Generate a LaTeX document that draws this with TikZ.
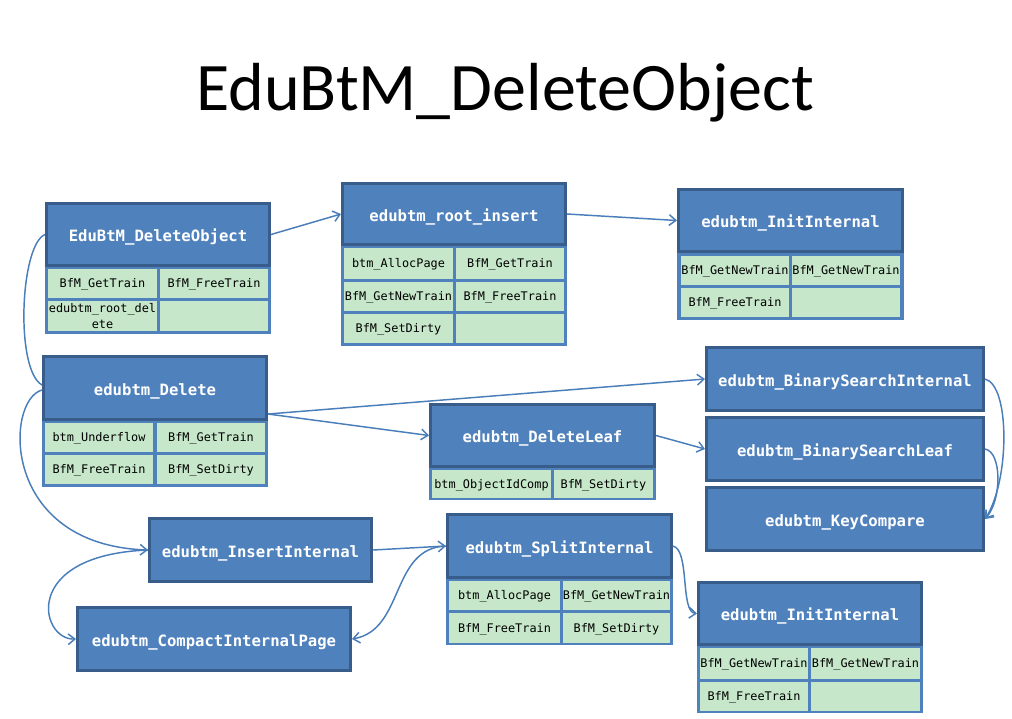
\documentclass[tikz,border=0pt]{standalone}
\usepackage{fontspec}
\setmainfont{Carlito}
\newfontfamily\monofont{DejaVu Sans Mono}
\usetikzlibrary{arrows.meta,calc}
\definecolor{hdrfill}{HTML}{4F81BD}
\definecolor{hdrline}{HTML}{385D8A}
\definecolor{cellfill}{HTML}{C6E7CA}
\definecolor{cellline}{HTML}{4F81BD}
\definecolor{conn}{HTML}{4A7EBB}
\tikzset{
  hdrst/.style={fill=hdrfill, draw=hdrline, line width=2.25pt, text=white,
    font=\monofont\bfseries\fontsize{11.7}{14}\selectfont, inner sep=0pt,
    text height=11.2pt, text depth=0pt},
  cellst/.style={fill=cellfill, draw=none, inner sep=0pt, align=center,
    font=\monofont\fontsize{8.9}{11.5}\selectfont},
  cellone/.style={cellst, text height=6.4pt, text depth=0pt},
  conn/.style={draw=conn, line width=1.1pt, -{Straight Barb[length=5pt,width=8pt]}},
  plainconn/.style={draw=conn, line width=1.1pt},
}
% name x1 y1 x2 y2 text (outer pixel coordinates)
\newcommand\hdrbox[6]{%
  \node[hdrst, minimum width={(#4-#2-3)*0.75pt}, minimum height={(#5-#3-3)*0.75pt}]
    (#1) at ({(#2+#4)/2},{(#3+#5)/2}) {#6};}
\newcommand\cellbox[6]{%
  \node[cellone, minimum width={(#4-#2)*0.75pt}, minimum height={(#5-#3)*0.75pt}]
    (#1) at ({(#2+#4)/2},{(#3+#5)/2}) {#6};}
\begin{document}
\begin{tikzpicture}[x=0.75pt,y=-0.75pt]
\fill[white] (0,0) rectangle (1012,718);
\useasboundingbox (0,0) rectangle (1012,718);

% title
\node[anchor=base, font=\fontsize{51}{61}\selectfont] (title) at (505,110) {EduBtM\_DeleteObject};

% Box A: EduBtM_DeleteObject
\fill[cellline] (45,265) rectangle (271,334);
\cellbox{a11}{48}{269}{157}{298}{BfM\_GetTrain}
\cellbox{a12}{160}{269}{268}{298}{BfM\_FreeTrain}
\node[cellst, minimum width={109*0.75pt}, minimum height={30*0.75pt}] (a21) at (102.5,316) {edubtm\_root\_del\\ete};
\cellbox{a22}{160}{301}{268}{331}{}
\hdrbox{A}{45}{202}{271}{267}{EduBtM\_DeleteObject}

% Box B: edubtm_root_insert
\fill[cellline] (341,244) rectangle (567,346);
\cellbox{b11}{344}{248}{453}{279}{btm\_AllocPage}
\cellbox{b12}{456}{248}{564}{279}{BfM\_GetTrain}
\cellbox{b21}{344}{282}{453}{311}{BfM\_GetNewTrain}
\cellbox{b22}{456}{282}{564}{311}{BfM\_FreeTrain}
\cellbox{b31}{344}{314}{453}{343}{BfM\_SetDirty}
\cellbox{b32}{456}{314}{564}{343}{}
\hdrbox{B}{341}{182}{567}{246}{edubtm\_root\_insert}

% Box C: edubtm_InitInternal (top)
\fill[cellline] (677,251) rectangle (904,320);
\cellbox{c11}{681}{256}{789}{285}{BfM\_GetNewTrain}
\cellbox{c12}{792}{256}{900}{285}{BfM\_GetNewTrain}
\cellbox{c21}{681}{288}{789}{317}{BfM\_FreeTrain}
\cellbox{c22}{792}{288}{900}{317}{}
\hdrbox{C}{677}{188}{904}{253}{edubtm\_InitInternal}

% Box D: edubtm_Delete
\fill[cellline] (42,419) rectangle (268,487);
\cellbox{d11}{45}{423}{153}{452}{btm\_Underflow}
\cellbox{d12}{157}{423}{265}{452}{BfM\_GetTrain}
\cellbox{d21}{45}{455}{153}{484}{BfM\_FreeTrain}
\cellbox{d22}{157}{455}{265}{484}{BfM\_SetDirty}
\hdrbox{D}{42}{355}{268}{421}{edubtm\_Delete}

% Box E: edubtm_DeleteLeaf
\fill[cellline] (429,466) rectangle (656,500);
\cellbox{e11}{432}{470}{551}{498}{btm\_ObjectIdComp}
\cellbox{e12}{554}{470}{653}{498}{BfM\_SetDirty}
\hdrbox{E}{429}{403}{656}{468}{edubtm\_DeleteLeaf}

% search / compare boxes
\hdrbox{BSI}{705}{346}{985}{412}{edubtm\_BinarySearchInternal}
\hdrbox{BSL}{705}{416}{985}{482}{edubtm\_BinarySearchLeaf}
\hdrbox{KC}{705}{486}{985}{552}{edubtm\_KeyCompare}

% insert / compact
\hdrbox{G}{148}{517}{373}{583}{edubtm\_InsertInternal}
\hdrbox{H}{76}{606}{352}{672}{edubtm\_CompactInternalPage}

% Box I: edubtm_SplitInternal
\fill[cellline] (446,577) rectangle (673,645);
\cellbox{i11}{449}{581}{560}{610}{btm\_AllocPage}
\cellbox{i12}{563}{581}{670}{610}{BfM\_GetNewTrain}
\cellbox{i21}{449}{613}{560}{643}{BfM\_FreeTrain}
\cellbox{i22}{563}{613}{670}{643}{BfM\_SetDirty}
\hdrbox{I}{446}{513}{673}{579}{edubtm\_SplitInternal}

% Box J: edubtm_InitInternal (bottom)
\fill[cellline] (697,644) rectangle (923,713);
\cellbox{j11}{700}{648}{808}{679}{BfM\_GetNewTrain}
\cellbox{j12}{811}{648}{920}{679}{BfM\_GetNewTrain}
\cellbox{j21}{700}{682}{808}{711}{BfM\_FreeTrain}
\cellbox{j22}{811}{682}{920}{711}{}
\hdrbox{J}{697}{581}{923}{646}{edubtm\_InitInternal}

% connectors
\draw[conn] (A.east) -- (B.west);
\draw[conn] (B.east) -- (C.west);
\draw[plainconn] (A.west) .. controls (20,245) and (15,370) .. ($(D.west)+(0,-3)$);
\coordinate (dout) at ($(D.south east)+(0,-7)$);
\draw[conn] (dout) -- (BSI.west);
\draw[conn] (dout) -- (E.west);
\draw[conn] (E.east) -- (BSL.west);
\draw[conn] (BSI.east) .. controls (1010,385) and (1010,480) .. (KC.east);
\draw[conn] (BSL.east) .. controls (1002,452) and (1002,500) .. (KC.east);
\draw[conn] ($(D.west)+(0,2)$) .. controls (5,400) and (0,545) .. (G.west);
\draw[conn] (G.east) -- (I.west);
\draw[conn] (G.west) .. controls (20,555) and (40,640) .. (H.west);
\draw[conn] (I.west) .. controls (390,548) and (405,630) .. (H.east);
\draw[conn] (I.east) .. controls (690,550) and (680,612) .. (J.west);
\end{tikzpicture}
\end{document}
